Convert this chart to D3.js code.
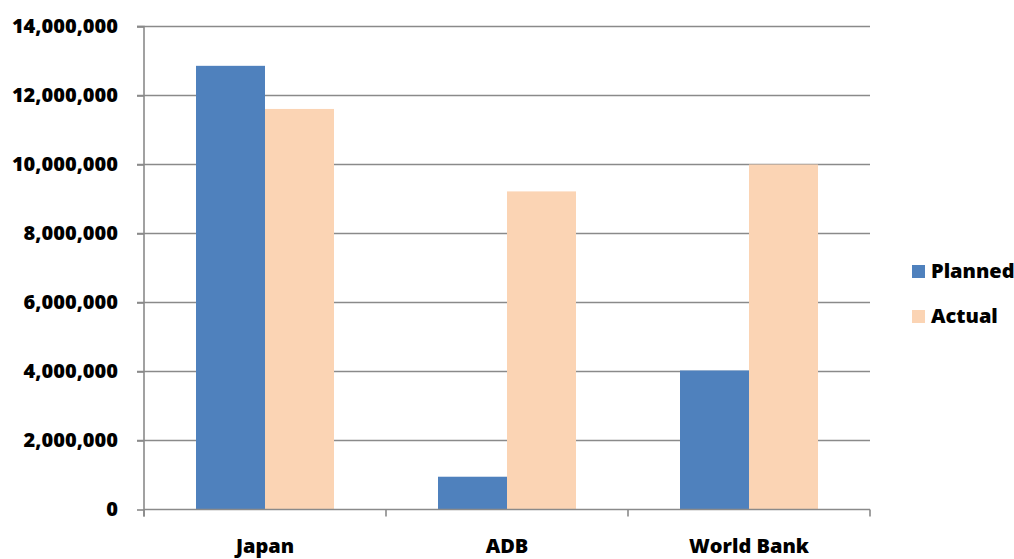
<!DOCTYPE html>
<html><head><meta charset="utf-8">
<script src="https://cdn.jsdelivr.net/npm/d3@7"></script>
<style>body{margin:0;background:#fff;}svg{display:block;}text{font-family:"Open Sans",sans-serif;font-weight:800;fill:#000;}</style>
</head><body><div id="chart"></div>
<script>
const categories = ["Japan", "ADB", "World Bank"];
const seriesNames = ["Planned", "Actual"];
const planned = [12860000, 950000, 4030000];
const actual = [11610000, 9220000, 10000000];
const yTicks = [0, 2000000, 4000000, 6000000, 8000000, 10000000, 12000000, 14000000];
const colors = ["#4F81BD", "#FBD4B4"];

const W = 1014, H = 559;
const svg = d3.select("#chart").append("svg").attr("width", W).attr("height", H);
const pLeft = 144, pRight = 870, pTop = 26.5, pBottom = 509.5;
const FS = 20;

const y = d3.scaleLinear().domain([0, 14000000]).range([pBottom, pTop]);
const x0 = d3.scaleBand().domain(categories).range([pLeft, pRight]).paddingInner(0).paddingOuter(0);
const x1 = d3.scaleBand().domain(seriesNames).range([52, 190]);

// gridlines
svg.append("g").selectAll("line").data(yTicks.filter(d => d > 0)).join("line")
  .attr("x1", pLeft - 7).attr("x2", pRight).attr("y1", d => y(d)).attr("y2", d => y(d))
  .attr("stroke", "#8a8a8a").attr("stroke-width", 1.6);

const data = categories.map((c, i) => ({cat: c, vals: [planned[i], actual[i]]}));
const groups = svg.append("g").selectAll("g").data(data).join("g")
  .attr("transform", d => `translate(${x0(d.cat)},0)`);
groups.selectAll("rect").data(d => d.vals.map((v, j) => ({name: seriesNames[j], v, j}))).join("rect")
  .attr("x", d => x1(d.name)).attr("width", x1.bandwidth())
  .attr("y", d => y(d.v)).attr("height", d => y(0) - y(d.v))
  .attr("fill", d => colors[d.j]);

// y axis
const yAxis = d3.axisLeft(y).tickValues(yTicks).tickSize(7).tickPadding(19)
  .tickFormat(d3.format(","));
const ya = svg.append("g").attr("transform", `translate(${pLeft},0)`).call(yAxis);
ya.select(".domain").attr("stroke", "#8a8a8a").attr("stroke-width", 1.6).attr("d", `M-7,${pTop}H0V${pBottom + 7}`);
ya.selectAll(".tick line").attr("stroke", "#8a8a8a").attr("stroke-width", 1.6);
ya.selectAll(".tick text").attr("font-size", FS).attr("font-family", "Open Sans").attr("font-weight", 800).attr("fill", "#000");

// x axis
const xa = svg.append("g").attr("transform", `translate(0,${pBottom})`);
xa.append("line").attr("x1", pLeft).attr("x2", pRight).attr("y1", 0).attr("y2", 0)
  .attr("stroke", "#8a8a8a").attr("stroke-width", 1.6);
const edges = [pLeft, ...categories.map(c => x0(c) + x0.bandwidth())];
xa.selectAll(".tk").data(edges).join("line").attr("class", "tk")
  .attr("x1", d => d).attr("x2", d => d).attr("y1", 0).attr("y2", 7)
  .attr("stroke", "#8a8a8a").attr("stroke-width", 1.6);
xa.selectAll(".lbl").data(categories).join("text").attr("class", "lbl")
  .attr("x", d => x0(d) + x0.bandwidth() / 2).attr("y", 43)
  .attr("text-anchor", "middle").attr("font-size", FS).text(d => d);

// legend
const lg = svg.append("g").attr("transform", "translate(912,265)");
seriesNames.forEach((s, i) => {
  lg.append("rect").attr("x", 0).attr("y", i * 45).attr("width", 13).attr("height", 13).attr("fill", colors[i]);
  lg.append("text").attr("x", 19).attr("y", i * 45 + 13).attr("font-size", FS).text(s);
});
</script></body></html>
